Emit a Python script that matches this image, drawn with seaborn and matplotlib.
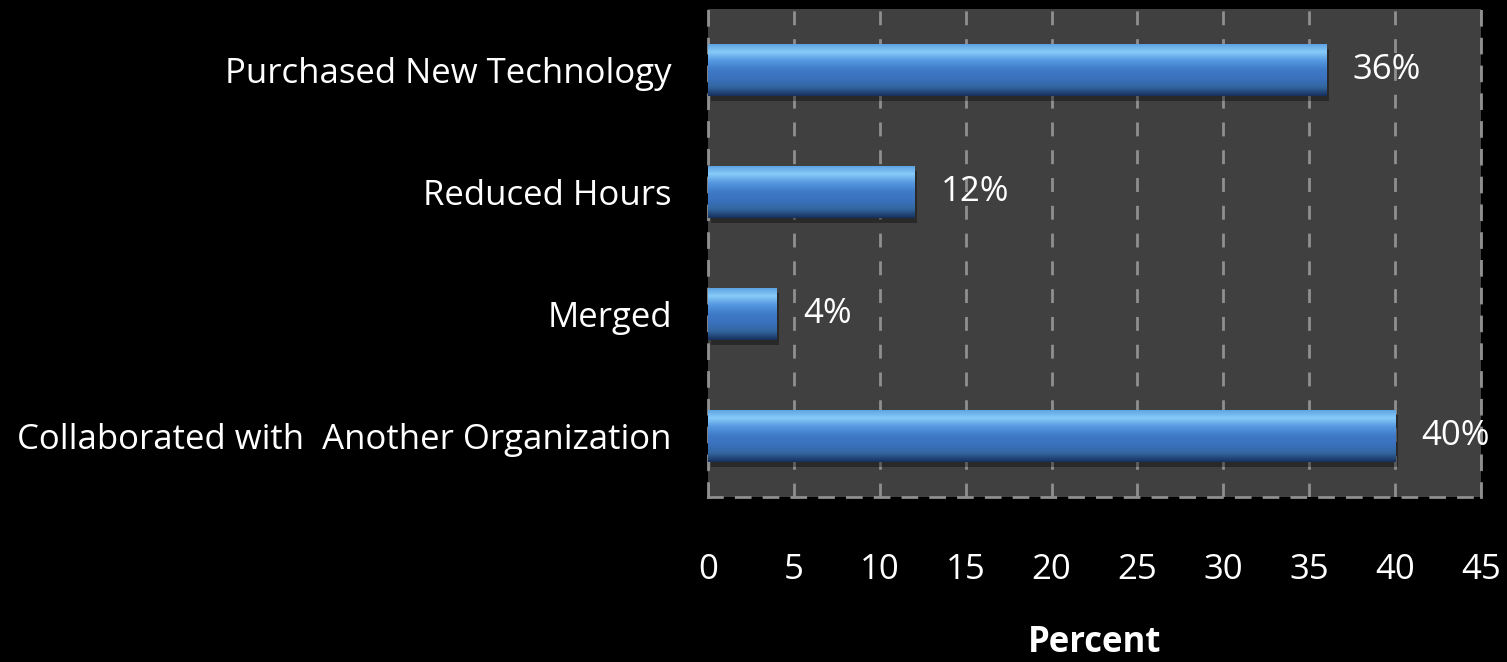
import numpy as np
import pandas as pd
import seaborn as sns
import matplotlib.pyplot as plt
from matplotlib.colors import LinearSegmentedColormap

categories = ["Purchased New Technology", "Reduced Hours", "Merged",
              "Collaborated with  Another Organization"]
percent = [36, 12, 4, 40]
value_labels = ["36%", "12%", "4%", "40%"]
x_ticks = [0, 5, 10, 15, 20, 25, 30, 35, 40, 45]

df = pd.DataFrame({"category": categories, "percent": percent})

sns.set_theme(style="dark")
plt.rcParams["font.family"] = ["Open Sans", "DejaVu Sans"]

fig = plt.figure(figsize=(15.07, 6.62), dpi=100, facecolor="black")
ax = fig.add_axes([0.4698, 0.2492, 0.5129, 0.7372])
ax.set_facecolor("#404040")

sns.barplot(data=df, x="percent", y="category", orient="h", width=0.43,
            color="#3b78c8", edgecolor="none", ax=ax, zorder=3)

# bevel look: vertical gradient clipped to each bar (light on top)
bevel = LinearSegmentedColormap.from_list(
    "bevel", ["#5a9ee0", "#86cbf8", "#5598e0", "#3f7bc8", "#3a72be", "#33669f", "#162f5c"])
grad = np.linspace(0, 1, 256).reshape(-1, 1)
for bar in ax.patches:
    x0, y0 = bar.get_x(), bar.get_y()
    w, h = bar.get_width(), bar.get_height()
    # shadow
    ax.add_patch(plt.Rectangle((x0 + 0.15, y0 + 0.04), w, h, color="black",
                               alpha=0.35, zorder=2, lw=0))
    im = ax.imshow(grad, cmap=bevel, aspect="auto", origin="upper",
                   extent=(x0, x0 + w, y0 + h, y0), zorder=4)
    im.set_clip_path(bar)

ax.set_xlim(0, 45)
ax.set_ylim(3.5, -0.5)
ax.set_xticks(x_ticks)
ax.grid(axis="x", color="#8f8f8f", linestyle=(0, (5, 5)), linewidth=2, zorder=1)
ax.grid(axis="y", visible=False)

for side in ["left", "right", "bottom"]:
    ax.spines[side].set_visible(True)
    ax.spines[side].set_color("#8f8f8f")
    ax.spines[side].set_linestyle((0, (5, 5)))
    ax.spines[side].set_linewidth(2)
ax.spines["top"].set_visible(False)

ax.tick_params(axis="x", colors="white", labelsize=25, pad=40, length=0)
ax.tick_params(axis="y", colors="white", labelsize=25, pad=26, length=0)
ax.set_ylabel("")
ax.set_xlabel("Percent", color="white", fontsize=25, fontweight="bold")
ax.xaxis.set_label_coords(0.5, -0.262)

for i, (v, lab) in enumerate(zip(percent, value_labels)):
    ax.annotate(lab, (v, i), xytext=(19, 0), textcoords="offset points",
                va="center", ha="left", color="white", fontsize=25, zorder=5)

fig.savefig("out.png", dpi=100, facecolor="black")
